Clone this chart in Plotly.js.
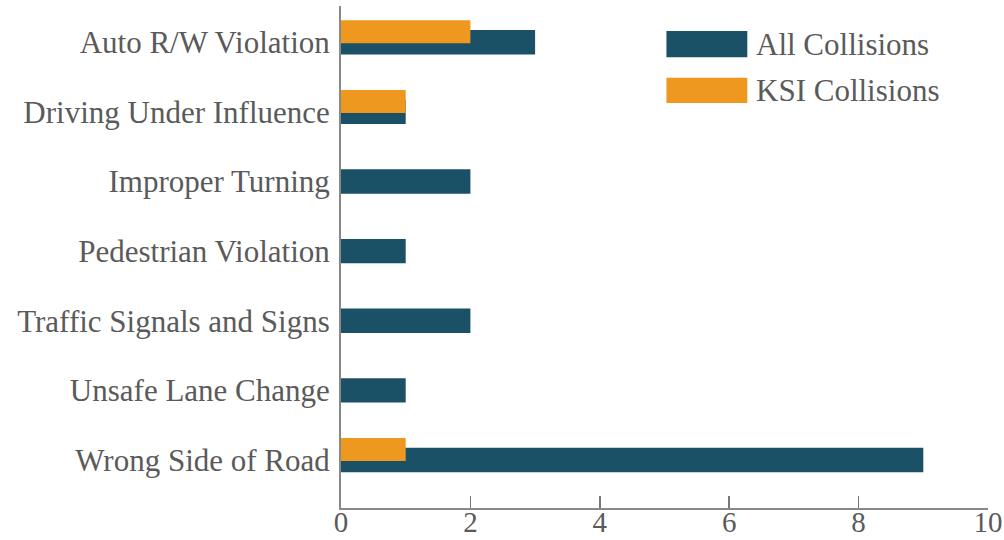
<!DOCTYPE html>
<html>
<head>
<meta charset="utf-8">
<script src="https://cdn.plot.ly/plotly-3.0.1.min.js"></script>
<style>html,body{margin:0;padding:0;background:#fff}#chart{width:1004px;height:540px}</style>
</head>
<body>
<div id="chart"></div>
<script>
const categories = ["Auto R/W Violation","Driving Under Influence","Improper Turning","Pedestrian Violation","Traffic Signals and Signs","Unsafe Lane Change","Wrong Side of Road"];
const allCollisions = [3,1,2,1,2,1,9];
const ksiCollisions = [2,1,0,0,0,0,1];
const xTicks = [0,2,4,6,8,10];
const seriesNames = ["All Collisions","KSI Collisions"];
const colors = ["#1b5166","#ee981f"];

const font = {family:"Liberation Serif, Times New Roman, serif", size:31, color:"#5a5a5a"};
const xFont = {family:"Liberation Serif, Times New Roman, serif", size:29, color:"#5a5a5a"};

const traces = [
  {type:"bar", orientation:"h", name:seriesNames[0], y:categories, x:allCollisions,
   marker:{color:colors[0]}, width:0.35, offset:-0.175, showlegend:false, hoverinfo:"x+y"},
  {type:"bar", orientation:"h", name:seriesNames[1], y:categories, x:ksiCollisions,
   marker:{color:colors[1]}, width:0.33, offset:-0.315, showlegend:false, hoverinfo:"x+y"}
];

const shapes = [], annotations = [];
const legY = [[0.898,0.950],[0.807,0.857]];
seriesNames.forEach((n,i)=>{
  shapes.push({type:"rect", xref:"paper", yref:"paper", x0:0.503, x1:0.628, y0:legY[i][0], y1:legY[i][1],
    fillcolor:colors[i], line:{width:0}});
  annotations.push({xref:"paper", yref:"paper", x:0.639, y:(legY[i][0]+legY[i][1])/2, xanchor:"left", yanchor:"middle",
    text:n, showarrow:false, font:font});
});

const layout = {
  width:1004, height:540,
  margin:{l:341, r:16, t:6, b:32},
  paper_bgcolor:"#fff", plot_bgcolor:"#fff",
  barmode:"overlay",
  font:font,
  xaxis:{range:[0,10], tickvals:xTicks, ticks:"inside", ticklen:12, tickcolor:"#777", tickwidth:1.5,
    showline:true, linecolor:"#888", linewidth:2, showgrid:false, zeroline:false, tickfont:xFont,
    ticklabelstandoff:-13},
  yaxis:{type:"category", categoryorder:"array", categoryarray:categories, range:[6.69,-0.52],
    showline:true, linecolor:"#888", linewidth:2, ticks:"", showgrid:false, zeroline:false,
    tickfont:font, ticklabelstandoff:3},
  shapes:shapes, annotations:annotations
};
Plotly.newPlot("chart", traces, layout, {displayModeBar:false, staticPlot:true});
</script>
</body>
</html>
